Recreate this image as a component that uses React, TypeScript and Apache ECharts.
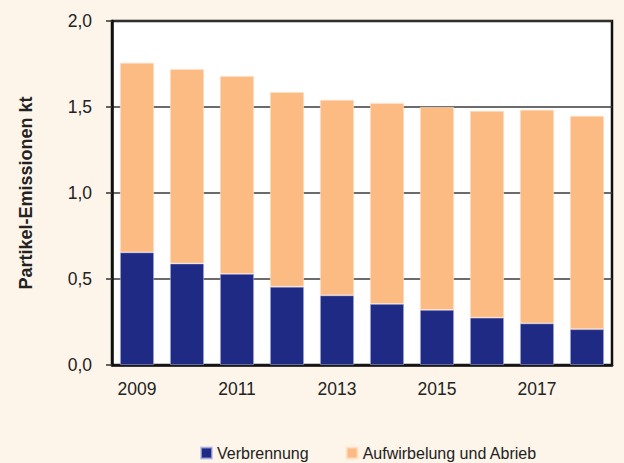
import React, { useEffect, useRef } from "react";
import * as echarts from "echarts";

const years = ["2009", "2010", "2011", "2012", "2013", "2014", "2015", "2016", "2017", "2018"];
const verbrennung = [0.655, 0.59, 0.53, 0.455, 0.405, 0.355, 0.32, 0.275, 0.242, 0.208];
const aufwirbelung = [1.102, 1.13, 1.15, 1.132, 1.136, 1.168, 1.18, 1.202, 1.242, 1.24];
const seriesNames = ["Verbrennung", "Aufwirbelung und Abrieb"];
const yAxisTitle = "Partikel-Emissionen kt";

const FONT = "'Liberation Sans', Arial, sans-serif";

export default function App() {
  const ref = useRef<HTMLDivElement>(null);
  useEffect(() => {
    if (!ref.current) return;
    const chart = echarts.init(ref.current, undefined, { renderer: "svg" });
    chart.setOption({
      animation: false,
      backgroundColor: "#FDF5E9",
      textStyle: { fontFamily: FONT },
      grid: {
        left: 112,
        right: 12,
        top: 21,
        bottom: 98,
        show: true,
        backgroundColor: "#ffffff",
        borderColor: "#111111",
        borderWidth: 2.5,
      },
      legend: {
        left: 195,
        top: 440,
        icon: "rect",
        itemWidth: 11,
        itemHeight: 11,
        itemGap: 37,
        textStyle: { fontSize: 16, color: "#222", fontFamily: FONT },
        data: seriesNames,
      },
      xAxis: {
        type: "category",
        data: years,
        axisLine: { show: true, lineStyle: { color: "#111", width: 2.5 } },
        axisTick: { show: false },
        axisLabel: {
          interval: 1,
          margin: 15,
          fontSize: 17.5,
          color: "#222",
          fontFamily: FONT,
        },
      },
      yAxis: {
        type: "value",
        min: 0,
        max: 2,
        interval: 0.5,
        name: yAxisTitle,
        nameLocation: "middle",
        nameGap: 77,
        nameTextStyle: { fontSize: 18, fontWeight: "bold", color: "#222", fontFamily: FONT },
        axisLine: { show: true, lineStyle: { color: "#111", width: 2.5 } },
        axisTick: { show: true, inside: false, length: 6, lineStyle: { color: "#333", width: 1.5 } },
        axisLabel: {
          margin: 20,
          fontSize: 17.5,
          color: "#222",
          fontFamily: FONT,
          formatter: (v: number) => v.toFixed(1).replace(".", ","),
        },
        splitLine: { show: true, lineStyle: { color: "#3a3a3a", width: 1.5 } },
      },
      series: [
        {
          name: seriesNames[0],
          type: "bar",
          stack: "total",
          barWidth: 34,
          data: verbrennung,
          itemStyle: { color: "#1F2A84", borderColor: "rgba(180,185,230,0.7)", borderWidth: 0.8 },
        },
        {
          name: seriesNames[1],
          type: "bar",
          stack: "total",
          barWidth: 34,
          data: aufwirbelung,
          itemStyle: { color: "#FDBB84", borderColor: "rgba(255,225,200,0.8)", borderWidth: 0.8 },
        },
      ],
    });
    return () => chart.dispose();
  }, []);
  return (
    <div
      ref={ref}
      style={{ position: "fixed", left: 0, top: 0, width: 624, height: 463 }}
    />
  );
}
